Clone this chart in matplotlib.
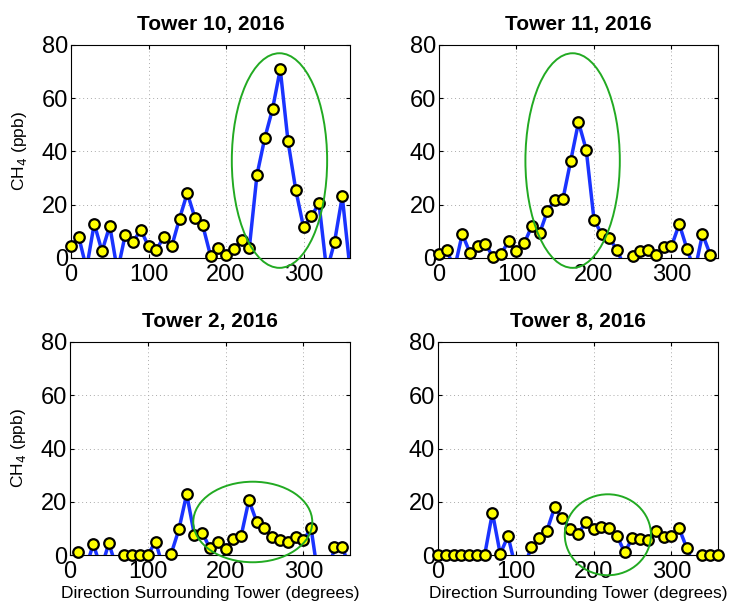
import numpy as np
import matplotlib
matplotlib.use("Agg")
import matplotlib.pyplot as plt
from matplotlib.patches import Ellipse

plt.rcParams['font.family'] = ['Liberation Sans', 'DejaVu Sans']

directions = list(range(0, 361, 10))

# negative values = no valid reading (line dips below axis, marker hidden)
tower10 = [4.4, 7.9, -4, 12.9, 2.5, 12.1, -5, 8.75, 6.0, 10.6, 4.4, 3.1, 7.9, 4.4,
           14.75, 24.4, 15.0, 12.25, 0.9, 3.75, 1.25, 3.4, 6.6, 3.6, 31.25, 45.0,
           55.9, 70.9, 43.9, 25.6, 11.6, 15.6, 20.5, -5, 5.9, 23.1, -4]
tower11 = [1.6, 2.9, -4, 9.0, 1.9, 4.6, 5.25, 0.25, 1.6, 6.25, 2.5, 5.6, 12.1, 9.4,
           17.75, 21.9, 22.25, 36.6, 51.0, 40.6, 14.4, 8.9, 7.4, 2.9, -4, 0.9, 2.5,
           3.1, 1.25, 4.1, 4.4, 12.75, 3.4, -5, 9.0, 1.25, -5]
tower2 = [-5, 1.0, -5, 4.0, -5, 4.4, -5, 0.0, 0.0, 0.0, 0.0, 5.0, -5, 0.4, 9.6,
          22.9, 7.4, 8.4, 2.5, 4.9, 2.1, 6.1, 7.1, 20.6, 12.5, 10.1, 6.6, 5.75,
          4.9, 6.6, 5.6, 10.0, -10, -10, 3.0, 3.0, -5]
tower8 = [0.0, 0.0, 0.0, 0.0, 0.0, 0.0, 0.0, 15.9, 0.4, 7.1, -5, -5, 2.9, 6.25,
          9.1, 17.9, 13.75, 9.9, 7.9, 12.25, 9.6, 10.4, 10.25, 7.25, 1.0, 6.4,
          5.9, 5.6, 9.1, 6.9, 7.25, 10.0, 2.5, -5, 0.0, 0.0, 0.0]

titles = ["Tower 10, 2016", "Tower 11, 2016", "Tower 2, 2016", "Tower 8, 2016"]
series = [tower10, tower11, tower2, tower8]
# ellipse: (center x, center y, width, height) in data units
ellipses = [(269, 36.6, 123, 80.6), (172.4, 36.6, 121.8, 80.6),
            (235, 12.4, 153, 30.25), (218.4, 7.6, 110.8, 30.4)]

W, H = 731, 604
fig = plt.figure(figsize=(W / 100, H / 100), dpi=100)

boxes = [(71, 45, 350, 258), (439, 45, 718, 258),
         (70, 342, 350, 555), (438, 342, 718, 555)]

for i, (box, vals, title, ell) in enumerate(zip(boxes, series, titles, ellipses)):
    l, t, r, b = box
    ax = fig.add_axes([l / W, (H - b) / H, (r - l) / W, (b - t) / H])
    x = np.array(directions, dtype=float)
    y = np.array(vals, dtype=float)
    ax.plot(x, y, color='#1a33ff', lw=2.5, zorder=3, clip_on=True)
    ok = y >= 0
    ax.plot(x[ok], y[ok], ls='none', marker='o', ms=7.6, mfc='#ffff00',
            mec='black', mew=1.6, zorder=4, clip_on=False)
    e = Ellipse((ell[0], ell[1]), ell[2], ell[3], fill=False,
                edgecolor='#22aa22', lw=1.4, zorder=5, clip_on=False)
    ax.add_patch(e)
    ax.set_xlim(0, 360)
    ax.set_ylim(0, 80)
    ax.set_xticks([0, 100, 200, 300])
    ax.set_yticks([0, 20, 40, 60, 80])
    ax.grid(True, ls=(0, (1, 3)), color='#aaaaaa', lw=0.7)
    ax.tick_params(direction='in', length=3, labelsize=17, pad=2,
                   top=True, right=True, width=0.8)
    ax.tick_params(axis='x', pad=4)
    for s in ax.spines.values():
        s.set_linewidth(0.8)
    ax.set_title(title, fontsize=15, fontweight='bold', pad=11)
    if i % 2 == 0:
        ax.set_ylabel(r'CH$_4$ (ppb)', fontsize=12.5, labelpad=9)
    if i >= 2:
        ax.set_xlabel('Direction Surrounding Tower (degrees)', fontsize=12.5,
                      labelpad=2.5)

fig.savefig('out.png', dpi=100)
